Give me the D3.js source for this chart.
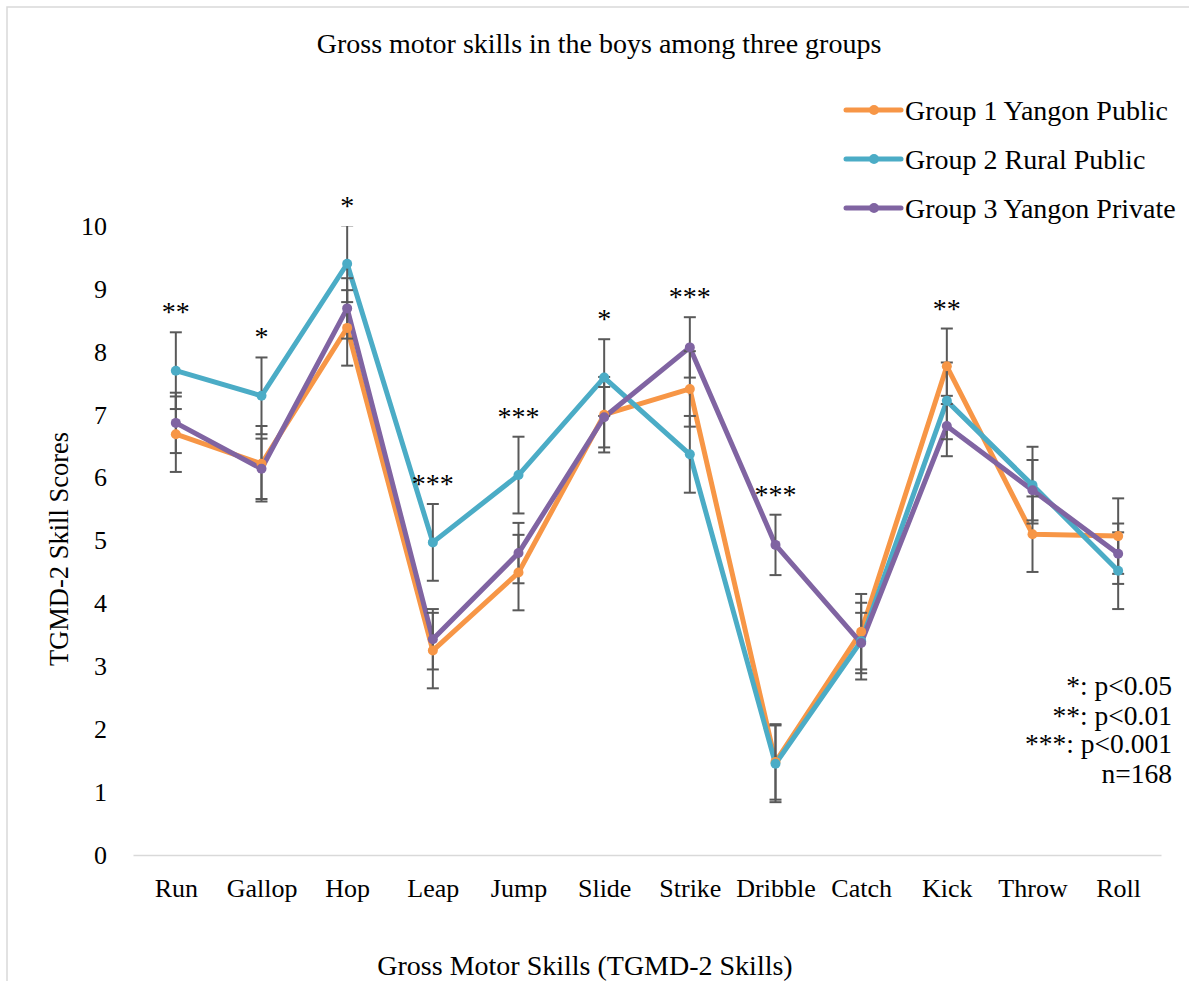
<!DOCTYPE html>
<html>
<head>
<meta charset="utf-8">
<script src="https://cdn.jsdelivr.net/npm/d3@7"></script>
<style>
  html, body { margin: 0; padding: 0; background: #ffffff; }
  svg { display: block; }
  text { font-family: "Liberation Serif", "Times New Roman", serif; fill: #000; }
</style>
</head>
<body>
<svg id="chart" width="1189" height="981"></svg>
<script>
// TGMD-2 skill categories
const skills = ["Run", "Gallop", "Hop", "Leap", "Jump", "Slide", "Strike", "Dribble", "Catch", "Kick", "Throw", "Roll"];

// Mean scores per group
const group1 = [6.69, 6.22, 8.38, 3.25, 4.49, 7.00, 7.41, 1.48, 3.55, 7.77, 5.10, 5.07];
const group2 = [7.70, 7.30, 9.40, 4.97, 6.04, 7.59, 6.37, 1.45, 3.40, 7.22, 5.88, 4.52];
const group3 = [6.87, 6.14, 8.69, 3.43, 4.80, 6.96, 8.07, 4.93, 3.37, 6.82, 5.80, 4.79];

// Standard error (one value per series)
const groupErrors = [0.60, 0.61, 0.48];

const groupNames = ["Group 1 Yangon Public", "Group 2 Rural Public", "Group 3 Yangon Private"];
const groupColors = ["#F79646", "#4BACC6", "#8064A2"];

// Significance marks per skill
const significance = ["**", "*", "*", "***", "***", "*", "***", "***", "", "**", "", ""];

const yTicks = [0, 1, 2, 3, 4, 5, 6, 7, 8, 9, 10];
const noteLines = ["*: p<0.05", "**: p<0.01", "***: p<0.001", "n=168"];

const series = [group1, group2, group3].map((vals, i) => ({
  name: groupNames[i],
  color: groupColors[i],
  err: groupErrors[i],
  values: vals.map((v, j) => ({ skill: skills[j], value: v }))
}));

const svg = d3.select("#chart");

// outer chart frame
svg.append("rect")
  .attr("x", 7).attr("y", 7)
  .attr("width", 1300).attr("height", 1100)
  .attr("fill", "none")
  .attr("stroke", "#d9d9d9")
  .attr("stroke-width", 1.5);

const plot = { left: 133, right: 1161, top: 226, bottom: 855 };

const x = d3.scalePoint().domain(skills).range([plot.left, plot.right]).padding(0.5);
const y = d3.scaleLinear().domain([0, 10]).range([plot.bottom, plot.top]);

svg.append("defs").append("clipPath").attr("id", "plotClip")
  .append("rect")
  .attr("x", plot.left).attr("y", plot.top)
  .attr("width", plot.right - plot.left).attr("height", plot.bottom - plot.top);

// title
svg.append("text")
  .attr("x", 599).attr("y", 53)
  .attr("text-anchor", "middle")
  .style("font-size", "28px")
  .text("Gross motor skills in the boys among three groups");

// y axis (labels only)
const yAxis = svg.append("g")
  .attr("transform", `translate(${plot.left},0)`)
  .call(d3.axisLeft(y).tickValues(yTicks).tickFormat(d3.format("d")).tickSize(0).tickPadding(26));
yAxis.select(".domain").remove();
yAxis.selectAll("text").style("font-size", "26px").style("font-family", "Liberation Serif");

// x axis
const xAxis = svg.append("g")
  .attr("transform", `translate(0,${plot.bottom})`)
  .call(d3.axisBottom(x).tickSize(0).tickSizeOuter(0).tickPadding(23.5));
xAxis.select(".domain").attr("stroke", "#d9d9d9").attr("stroke-width", 1.5);
xAxis.selectAll("text").style("font-size", "26px").style("font-family", "Liberation Serif");

// axis titles
svg.append("text")
  .attr("transform", "translate(59,549) rotate(-90)")
  .attr("text-anchor", "middle")
  .attr("dominant-baseline", "central")
  .style("font-size", "26.5px")
  .text("TGMD-2 Skill Scores");

svg.append("text")
  .attr("x", 585).attr("y", 975)
  .attr("text-anchor", "middle")
  .style("font-size", "28px")
  .text("Gross Motor Skills (TGMD-2 Skills)");

const line = d3.line().x(d => x(d.skill)).y(d => y(d.value));

// series lines
const linesG = svg.append("g").attr("clip-path", "url(#plotClip)");
series.forEach(s => {
  linesG.append("path")
    .datum(s.values)
    .attr("fill", "none")
    .attr("stroke", s.color)
    .attr("stroke-width", 5)
    .attr("stroke-linejoin", "round")
    .attr("d", line);
});

// error bars
const errG = svg.append("g").attr("clip-path", "url(#plotClip)");
const capHalf = 6;
series.forEach(s => {
  const g = errG.append("g");
  g.selectAll("line.stem").data(s.values).join("line")
    .attr("x1", d => x(d.skill)).attr("x2", d => x(d.skill))
    .attr("y1", d => y(d.value + s.err)).attr("y2", d => y(d.value - s.err))
    .attr("stroke", "#595959").attr("stroke-width", 2);
  ["+", "-"].forEach(sign => {
    g.selectAll(`line.cap${sign === "+" ? "hi" : "lo"}`).data(s.values).join("line")
      .attr("x1", d => x(d.skill) - capHalf).attr("x2", d => x(d.skill) + capHalf)
      .attr("y1", d => y(sign === "+" ? d.value + s.err : d.value - s.err))
      .attr("y2", d => y(sign === "+" ? d.value + s.err : d.value - s.err))
      .attr("stroke", "#595959").attr("stroke-width", 2);
  });
});

// markers
series.forEach(s => {
  svg.append("g").selectAll("circle").data(s.values).join("circle")
    .attr("cx", d => x(d.skill)).attr("cy", d => y(d.value))
    .attr("r", 5)
    .attr("fill", s.color);
});

// significance marks above the highest error bar of each skill
skills.forEach((sk, j) => {
  if (!significance[j]) return;
  const top = d3.max(series, s => s.values[j].value + s.err);
  const topY = Math.max(y(Math.min(top, 10)), plot.top);
  svg.append("text")
    .attr("x", x(sk)).attr("y", topY - 11)
    .attr("text-anchor", "middle")
    .style("font-size", "28px")
    .text(significance[j]);
});

// legend
const legend = svg.append("g");
const legendY = [110, 159, 208];
series.forEach((s, i) => {
  const g = legend.append("g").attr("transform", `translate(0,${legendY[i]})`);
  g.append("line").attr("x1", 846).attr("x2", 901).attr("y1", 0).attr("y2", 0)
    .attr("stroke", s.color).attr("stroke-width", 5).attr("stroke-linecap", "round");
  g.append("circle").attr("cx", 874).attr("cy", 0).attr("r", 5).attr("fill", s.color);
  g.append("text").attr("x", 905).attr("y", 0)
    .attr("dominant-baseline", "central")
    .style("font-size", "28px")
    .text(s.name);
});

// significance key
const noteBaselines = [695, 725, 753, 783];
noteLines.forEach((t, i) => {
  svg.append("text")
    .attr("x", 1172).attr("y", noteBaselines[i])
    .attr("text-anchor", "end")
    .style("font-size", "27.5px")
    .text(t);
});
</script>
</body>
</html>
